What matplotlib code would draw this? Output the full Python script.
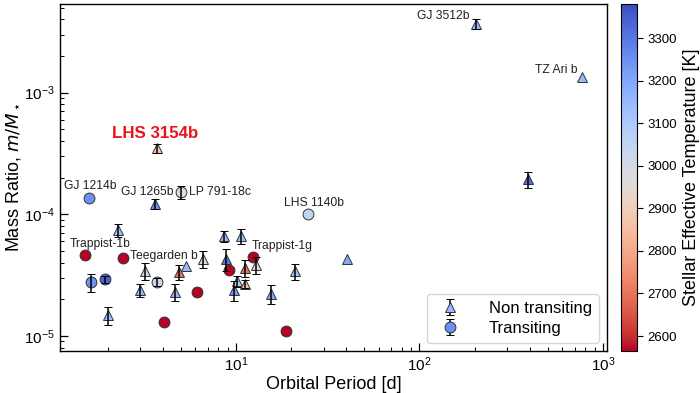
import numpy as np
import matplotlib
matplotlib.use("Agg")
import matplotlib.pyplot as plt
from matplotlib.colors import Normalize
from matplotlib.cm import ScalarMappable

plt.rcParams['font.family'] = ['Liberation Sans', 'DejaVu Sans']

# ---- data ----
# Non-transiting planets
nt_period = [2.275, 3.64, 3.18, 4.9, 5.32, 6.61, 3.02, 4.63, 2.02, 8.6, 8.87, 9.8,
             10.65, 12.9, 11.25, 10.18, 11.15, 21.1, 15.5, 40.1, 204.0, 771.0, 390.0, 3.718]
nt_mass = [7.35e-5, 1.22e-4, 3.43e-5, 3.35e-5, 3.77e-5, 4.30e-5, 2.39e-5, 2.29e-5, 1.47e-5,
           6.61e-5, 4.30e-5, 2.39e-5, 6.63e-5, 3.84e-5, 3.63e-5, 2.80e-5, 2.66e-5, 3.38e-5,
           2.22e-5, 4.30e-5, 3.67e-3, 1.34e-3, 1.94e-4, 3.50e-4]
nt_err = [0.9e-5, 1.1e-5, 0.55e-5, 0.5e-5, 0.0, 0.7e-5, 0.3e-5, 0.35e-5, 0.25e-5,
          0.7e-5, 0.9e-5, 0.45e-5, 0.9e-5, 0.6e-5, 0.6e-5, 0.3e-5, 0.2e-5, 0.5e-5,
          0.4e-5, 0.0, 0.35e-3, 0.0, 0.3e-4, 0.3e-4]
nt_teff = [3130, 3250, 3000, 2700, 3150, 2990, 3150, 3150, 3130, 3150, 3300, 3230,
           3130, 2960, 2700, 3080, 2880, 3120, 3200, 3200, 3150, 3150, 3320, 2880]
nt_names = ['', 'GJ 1265b', '', '', '', '', '', '', '', '', '', '',
            '', '', '', '', '', '', '', '', 'GJ 3512b', 'TZ Ari b', '', 'LHS 3154b']

# Transiting planets
tr_period = [1.58, 4.99, 1.51, 2.42, 4.05, 6.10, 9.21, 12.35, 18.77, 1.615, 1.94, 3.73, 24.7]
tr_mass = [1.36e-4, 1.52e-4, 4.59e-5, 4.38e-5, 1.30e-5, 2.31e-5, 3.47e-5, 4.42e-5, 1.09e-5,
           2.75e-5, 2.93e-5, 2.77e-5, 1.007e-4]
tr_err = [0.0, 0.18e-4, 0.0, 0.0, 0.0, 0.0, 0.0, 0.0, 0.0, 0.45e-5, 0.2e-5, 0.2e-5, 0.0]
tr_teff = [3250, 2960, 2566, 2566, 2566, 2566, 2566, 2566, 2566, 3250, 3340, 3030, 3050]
tr_names = ['GJ 1214b', 'LP 791-18c', 'Trappist-1b', 'Teegarden b', '', '', '',
            'Trappist-1g', '', '', '', '', 'LHS 1140b']

teff_min, teff_max = 2565, 3381
cbar_ticks = [2600, 2700, 2800, 2900, 3000, 3100, 3200, 3300]

# label offsets (pixels) and alignment
label_style = {
    'GJ 3512b': ((-7, 8), 'right', 'center'),
    'TZ Ari b': ((-5, 7), 'right', 'center'),
    'GJ 1265b': ((-8, 12), 'center', 'center'),
    'GJ 1214b': ((1, 12), 'center', 'center'),
    'LP 791-18c': ((8, 0), 'left', 'center'),
    'LHS 1140b': ((6, 11), 'center', 'center'),
    'Trappist-1b': ((15, 11), 'center', 'center'),
    'Teegarden b': ((7, 2), 'left', 'center'),
    'Trappist-1g': ((29, 11), 'center', 'center'),
}

fig = plt.figure(figsize=(7.0, 3.93), dpi=100)
ax = fig.add_axes([0.0857, 0.107, 0.7813, 0.884])
cax = fig.add_axes([0.887, 0.107, 0.023, 0.884])

cmap = plt.get_cmap('coolwarm_r')
norm = Normalize(vmin=teff_min, vmax=teff_max)

ms = 7.8
def draw(periods, masses, errs, teffs, marker, legend_idx, legend_label):
    for i, (p, m, e, t) in enumerate(zip(periods, masses, errs, teffs)):
        col = cmap(norm(t))
        lab = legend_label if i == legend_idx else None
        cont = ax.errorbar([p], [m], yerr=([e] if e > 0 else None), fmt=marker, ms=ms,
                           mfc=col, mec='#333333', mew=0.7, ecolor='black',
                           elinewidth=1.1, capsize=3, capthick=1.1, label=lab, zorder=3)
        for c in cont[1]:
            c.set_zorder(3.5)
        for c in cont[2]:
            c.set_zorder(3.5)

draw(nt_period, nt_mass, nt_err, nt_teff, '^', 20, 'Non transiting')
draw(tr_period, tr_mass, tr_err, tr_teff, 'o', 9, 'Transiting')

for names, ps, mss in [(nt_names, nt_period, nt_mass), (tr_names, tr_period, tr_mass)]:
    for n, p, m in zip(names, ps, mss):
        if not n:
            continue
        if n == 'LHS 3154b':
            ax.annotate(n, (p, m), xytext=(-2, 15), textcoords='offset pixels',
                        ha='center', va='center', fontsize=12.2, fontweight='bold',
                        color='#e8141c')
            continue
        off, ha, va = label_style[n]
        ax.annotate(n, (p, m), xytext=off, textcoords='offset pixels',
                    ha=ha, va=va, fontsize=8.7, color='#222222')

ax.set_xscale('log')
ax.set_yscale('log')
ax.set_xlim(1.1, 1050)
ax.set_ylim(7.5e-6, 5.4e-3)
ax.set_xlabel('Orbital Period [d]', fontsize=13, labelpad=1)
ax.set_ylabel(r'Mass Ratio, $m/M_\star$', fontsize=13, labelpad=1)
ax.tick_params(which='major', direction='in', length=6, width=0.9, labelsize=11)
ax.tick_params(which='minor', direction='in', length=3, width=0.7)
for s in ax.spines.values():
    s.set_linewidth(1.0)

leg = ax.legend(loc='lower right', fontsize=12, frameon=True, fancybox=True,
                edgecolor='#cccccc', handletextpad=1.3, borderpad=0.4,
                labelspacing=0.3, borderaxespad=0.5)

sm = ScalarMappable(norm=norm, cmap=cmap)
cb = fig.colorbar(sm, cax=cax, ticks=cbar_ticks)
cb.ax.tick_params(labelsize=9.5, length=4)
cb.set_label('Stellar Effective Temperature [K]', fontsize=13, labelpad=4)

fig.savefig('out.png', dpi=100)
